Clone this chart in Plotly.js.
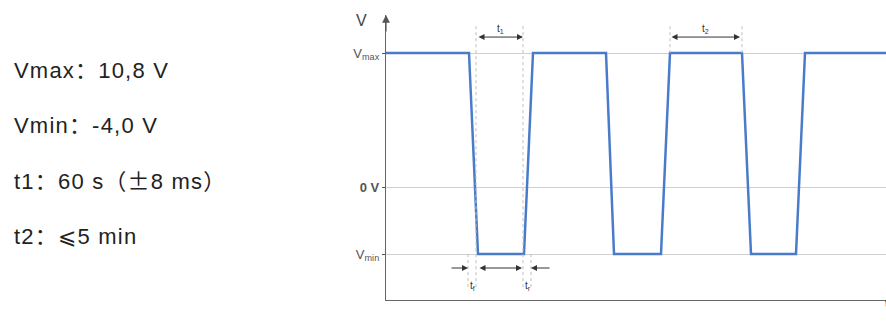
<!DOCTYPE html>
<html>
<head>
<meta charset="utf-8">
<script src="https://cdn.plot.ly/plotly-3.0.1.min.js"></script>
<style>
  html, body { margin: 0; padding: 0; background: #fff; }
  #chart { width: 886px; height: 322px; }
</style>
</head>
<body>
<div id="chart"></div>
<script>
// Waveform (time in arbitrary units, level normalised: Vmax = 1, 0 V = 0, Vmin = -0.5)
const waveT = [0, 16.6, 18.4, 27.6, 29.4, 44, 45.6, 55, 56.8, 71.2, 73, 82, 83.8, 100];
const waveV = [1, 1, -0.5, -0.5, 1, 1, -0.5, -0.5, 1, 1, -0.5, -0.5, 1, 1];

const levelVals = [-0.5, 0, 1];
const levelText = ['V<sub>min</sub>', '<b>0 V</b>', 'V<sub>max</sub>'];

// Spec text on the left
const specLines = [
  'Vmax：10,8 V',
  'Vmin：-4,0 V',
  't1：60 s（<span style="font-family:\'Noto Sans CJK SC\'">±</span>8 ms）',
  't2：<span style="font-family:\'DejaVu Sans\'">⩽</span>5 min'
];

// Timing marks: t1 (low time), t2 (high time), tf / tr (edges)
const t1Span = [18.2, 27.4];
const t2Span = [56.8, 70.8];
const tfEdge = [16.4, 18.0];
const trEdge = [27.6, 29.0];

const Y_TOP = 1.2836, Y_BOT = -0.8433;
const ARROW_TOP = 1.119, ARROW_BOT = -0.6045;
const GREY = '#bdbdbd', DARK = '#333';

const traces = [{
  x: waveT,
  y: waveV,
  mode: 'lines',
  line: { color: '#4a7bcb', width: 2.5 },
  hoverinfo: 'skip'
}];

const shapes = [];
function guide(x, y0, y1) {
  shapes.push({
    type: 'line', xref: 'x', yref: 'y',
    x0: x, x1: x, y0: y0, y1: y1,
    line: { color: GREY, width: 1, dash: 'dot' }
  });
}
guide(t1Span[0] - 0.2, 1.2, ARROW_BOT - 0.15);
guide(t1Span[1], 1.2, ARROW_BOT - 0.15);
guide(tfEdge[0], -0.5, ARROW_BOT - 0.15);
guide(trEdge[1], -0.5, ARROW_BOT - 0.15);
guide(t2Span[0], 1.2, 1);
guide(t2Span[1] + 0.4, 1.2, 1);

const annotations = [];

function arrow(x0, x1, y, both) {
  annotations.push({
    xref: 'x', yref: 'y', axref: 'x', ayref: 'y',
    x: x1, y: y, ax: x0, ay: y,
    text: '', showarrow: true,
    arrowhead: 2, arrowsize: 1.2, arrowwidth: 1,
    startarrowhead: 2, startarrowsize: 1.2,
    arrowside: both ? 'end+start' : 'end',
    arrowcolor: DARK, standoff: 0, startstandoff: 0
  });
}
function label(text, x, y) {
  annotations.push({
    xref: 'x', yref: 'y', x: x, y: y, text: text, showarrow: false,
    font: { family: 'Liberation Sans, Arial', size: 10, color: DARK }
  });
}

arrow(t1Span[0], t1Span[1], ARROW_TOP, true);
label('t<sub>1</sub>', (t1Span[0] + t1Span[1]) / 2, 1.18);
arrow(t2Span[0], t2Span[1], ARROW_TOP, true);
label('t<sub>2</sub>', (t2Span[0] + t2Span[1]) / 2, 1.18);

arrow(tfEdge[0] - 3.6, tfEdge[0], ARROW_BOT, false);
arrow(tfEdge[1] + 0.4, trEdge[0] - 0.4, ARROW_BOT, true);
arrow(trEdge[1] + 4, trEdge[1], ARROW_BOT, false);
label('t<sub>f</sub>', (tfEdge[0] + tfEdge[1]) / 2, -0.74);
label('t<sub>r</sub>', (trEdge[0] + trEdge[1]) / 2, -0.74);

// y axis arrow head
annotations.push({
  xref: 'x', yref: 'y', axref: 'x', ayref: 'y',
  x: 0, y: Y_TOP, ax: 0, ay: 1.15,
  text: '', showarrow: true, arrowhead: 2, arrowsize: 1.3, arrowwidth: 1.2,
  arrowcolor: '#555', standoff: 0
});
// axis names
annotations.push({
  xref: 'paper', yref: 'paper', x: -0.05, y: 0.979, xanchor: 'center', yanchor: 'middle',
  text: 'V', showarrow: false,
  font: { family: 'Liberation Sans, Arial', size: 16, color: '#444' }
});
annotations.push({
  xref: 'paper', yref: 'paper', x: 1, y: -0.04, xanchor: 'left', xshift: -3,
  text: 't', showarrow: false,
  font: { family: 'Liberation Sans, Arial', size: 11, color: DARK }
});

// spec text
const specY = [0.8065, 0.614, 0.4245, 0.2245];
specLines.forEach((s, i) => {
  annotations.push({
    xref: 'paper', yref: 'paper', x: -0.748, y: specY[i],
    xanchor: 'left', yanchor: 'middle',
    text: '<span style="letter-spacing:1.2px">' + s + '</span>', showarrow: false,
    font: { family: 'Liberation Sans, Arial, Noto Sans CJK SC', size: 22, color: '#222' }
  });
});

const layout = {
  width: 886,
  height: 322,
  margin: { l: 386, r: 0, t: 15, b: 22, pad: 0 },
  paper_bgcolor: '#fff',
  plot_bgcolor: '#fff',
  showlegend: false,
  xaxis: {
    range: [0, 100],
    showgrid: false, zeroline: false, showticklabels: false, ticks: '',
    showline: true, linecolor: '#666', linewidth: 1.2
  },
  yaxis: {
    range: [Y_BOT, Y_TOP],
    tickvals: levelVals, ticktext: levelText,
    ticks: 'outside', ticklen: 3, tickcolor: '#555',
    tickfont: { family: 'Liberation Sans, Arial', size: 13, color: '#555' },
    showgrid: true, gridcolor: '#d0d0d0', gridwidth: 1,
    zeroline: false, showline: true, linecolor: '#666', linewidth: 1.2
  },
  shapes: shapes,
  annotations: annotations
};

Plotly.newPlot('chart', traces, layout, { displayModeBar: false, staticPlot: true });
</script>
</body>
</html>
